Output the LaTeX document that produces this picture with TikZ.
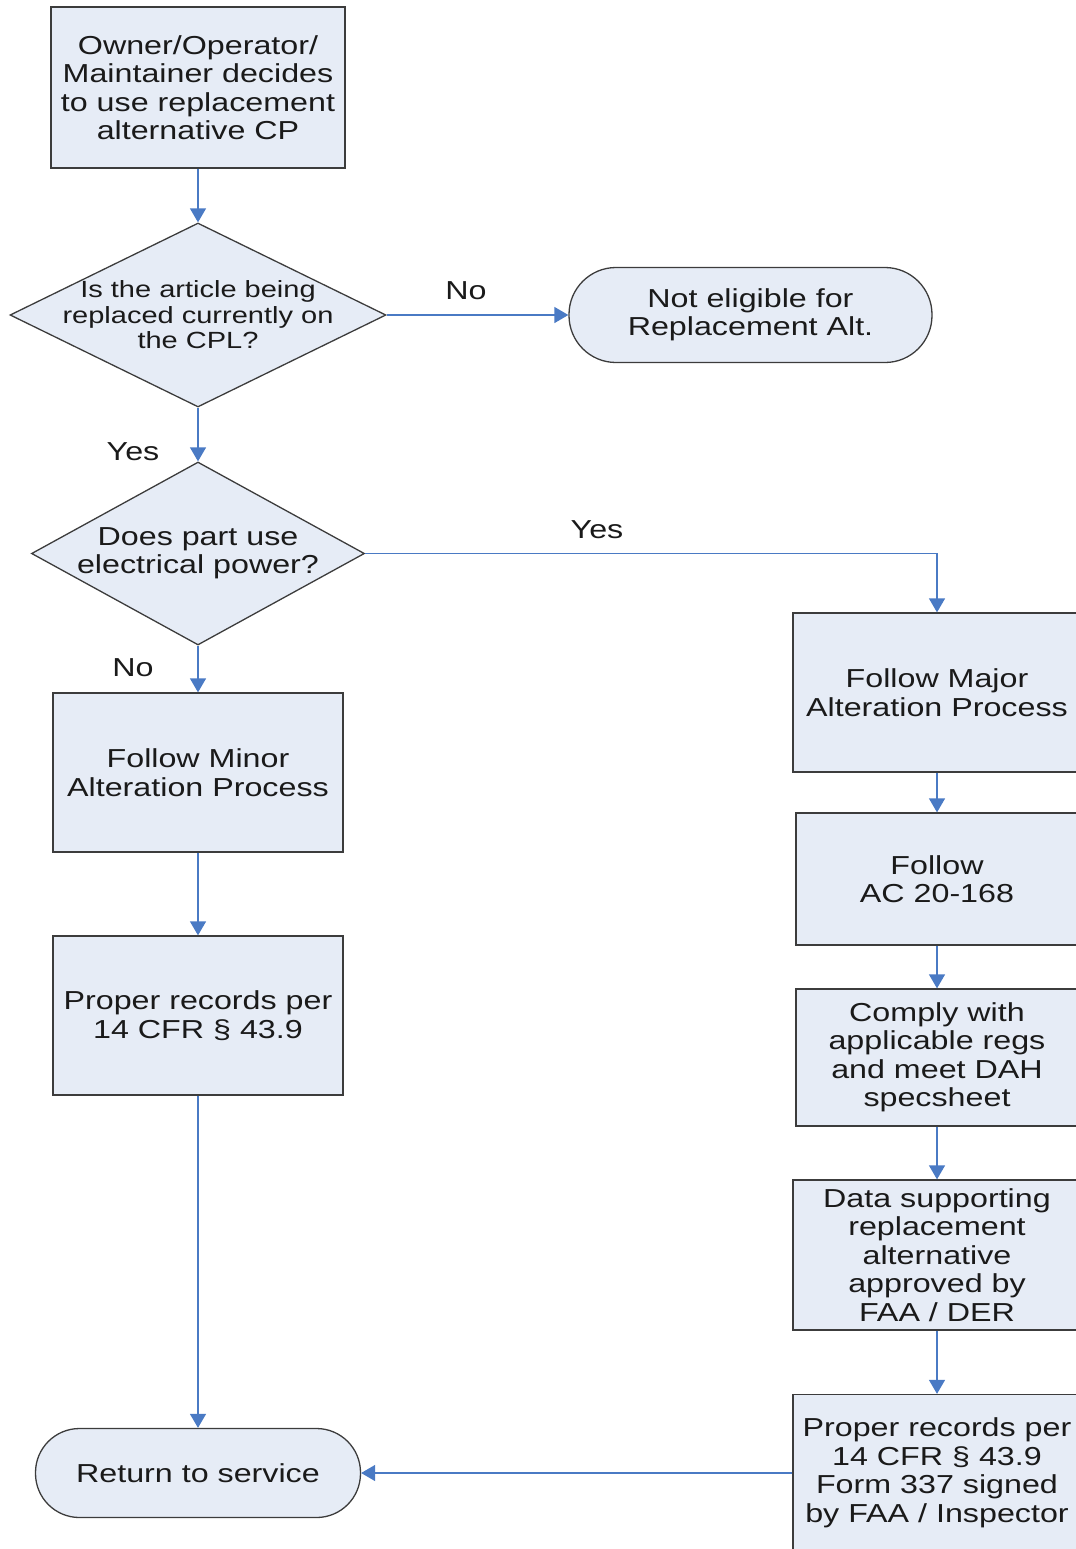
\documentclass[tikz,border=0pt]{standalone}
\usepackage{fontspec}
\setmainfont[FakeStretch=1.24]{Liberation Sans}
\usetikzlibrary{arrows.meta,shapes.geometric}
\definecolor{boxfill}{RGB}{230,236,246}
\definecolor{boxdraw}{RGB}{60,60,60}
\definecolor{conn}{RGB}{74,122,196}
\definecolor{txt}{RGB}{26,26,26}
\begin{document}
\begin{tikzpicture}[x=0.5pt,y=-0.5pt,
  every node/.style={font=\fontsize{13}{14.25}\selectfont, text=txt},
  procbox/.style={draw=boxdraw, fill=boxfill, line width=0.65pt, align=center, inner sep=0pt},
  termbox/.style={procbox, rounded corners=#1},
  decbox/.style={draw=boxdraw, fill=boxfill, line width=0.65pt, shape=diamond, inner sep=0pt},
  conn/.style={draw=conn, line width=0.65pt, -{Triangle[width=8pt,length=7pt]}},
  lbl/.style={inner sep=0pt}
]
\useasboundingbox (0,0) rectangle (1076,1549);
\clip (0,0) rectangle (1076,1549);

% left column
\node[procbox, minimum width=147pt, minimum height=80.5pt] (start) at (198,87.5)
  {Owner/Operator/\\Maintainer decides\\to use replacement\\alternative CP};
\node[decbox, minimum width=188pt, minimum height=92pt,
  label={[align=center, font=\fontsize{11.7}{12.75}\selectfont]center:Is the article being\\replaced currently on\\the CPL?}] (d1) at (198,315) {};
\node[termbox=23.5pt, minimum width=181.5pt, minimum height=47.5pt] (noelig) at (750.5,315)
  {Not eligible for\\Replacement Alt.};
\node[decbox, minimum width=166.5pt, minimum height=91.5pt,
  label={[align=center, font=\fontsize{13}{14}\selectfont]center:Does part use\\electrical power?}] (d2) at (198,553.5) {};
\node[procbox, minimum width=145pt, minimum height=79.5pt] (minor) at (198,772.5)
  {Follow Minor\\Alteration Process};
\node[procbox, minimum width=145pt, minimum height=79.5pt] (rec1) at (198,1015.5)
  {Proper records per\\14 CFR \S\ 43.9};
\node[termbox=22pt, minimum width=162.5pt, minimum height=44.5pt] (ret) at (198,1473)
  {Return to service};

% right column
\node[procbox, minimum width=144pt, minimum height=79.5pt] (major) at (937,692.5)
  {Follow Major\\Alteration Process};
\node[procbox, minimum width=141pt, minimum height=66pt] (acbox) at (937,879)
  {Follow\\AC 20-168};
\node[procbox, minimum width=141pt, minimum height=68.5pt] (comply) at (937,1057.5)
  {Comply with\\applicable regs\\and meet DAH\\specsheet};
\node[procbox, minimum width=144pt, minimum height=75pt] (data) at (937,1255)
  {Data supporting\\replacement\\alternative\\approved by\\FAA / DER};
\node[procbox, minimum width=144pt, minimum height=78.5pt] (rec2) at (937,1473)
  {Proper records per\\14 CFR \S\ 43.9\\Form 337 signed\\by FAA / Inspector};

% connectors
\draw[conn] (start.south) -- (d1.north);
\draw[conn] (d1.east) -- (noelig.west);
\draw[conn] (d1.south) -- (d2.north);
\draw[conn] (d2.east) -| (major.north);
\draw[conn] (d2.south) -- (minor.north);
\draw[conn] (minor.south) -- (rec1.north);
\draw[conn] (rec1.south) -- (ret.north);
\draw[conn] (major.south) -- (acbox.north);
\draw[conn] (acbox.south) -- (comply.north);
\draw[conn] (comply.south) -- (data.north);
\draw[conn] (data.south) -- (rec2.north);
\draw[conn] (rec2.west) -- (ret.east);

% labels
\node[lbl] (lno1) at (466,291) {No};
\node[lbl] (lyes1) at (133,452) {Yes};
\node[lbl] (lyes2) at (597,530) {Yes};
\node[lbl] (lno2) at (133,668) {No};
\end{tikzpicture}
\end{document}
